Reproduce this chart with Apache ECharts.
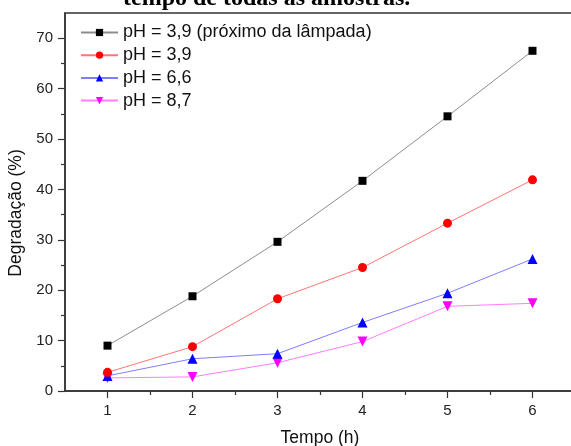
<!DOCTYPE html>
<html><head><meta charset="utf-8">
<script src="https://cdn.jsdelivr.net/npm/echarts@6/dist/echarts.min.js"></script>
<style>html,body{margin:0;padding:0;background:#fff}#c{width:571px;height:446px}</style>
</head><body><div id="c"></div>
<script>
const times = [1, 2, 3, 4, 5, 6];
const seriesNames = ['pH = 3,9 (próximo da lâmpada)', 'pH = 3,9', 'pH = 6,6', 'pH = 8,7'];
const phNearLamp = [9.0, 18.8, 29.6, 41.7, 54.5, 67.5];
const ph39 = [3.7, 8.8, 18.3, 24.5, 33.3, 41.9];
const ph66 = [3.0, 6.4, 7.4, 13.6, 19.4, 26.2];
const ph87 = [2.6, 2.8, 5.6, 9.8, 16.8, 17.4];
const xTicks = [1, 2, 3, 4, 5, 6];
const xMinorTicks = [1.5, 2.5, 3.5, 4.5, 5.5];
const yTicks = [0, 10, 20, 30, 40, 50, 60, 70];
const yMinorTicks = [5, 15, 25, 35, 45, 55, 65];
const captionText = 'tempo de todas as amostras.';

const chart = echarts.init(document.getElementById('c'));
const pair = arr => arr.map((v, i) => [times[i], v]);
const styles = [
  {c: '#000000', l: '#8c8c8c', s: 'rect', size: 8, rot: 0},
  {c: '#ff0000', l: '#ff7575', s: 'circle', size: 9, rot: 0},
  {c: '#0000ff', l: '#7d7dff', s: 'triangle', size: 10, rot: 0},
  {c: '#ff00ff', l: '#ff7dff', s: 'triangle', size: 10, rot: 180}
];
const dataSets = [phNearLamp, ph39, ph66, ph87];
const font = '"Liberation Sans", Arial, sans-serif';
const axisCol = '#333';
const gridBox = {left: 65, top: 13, width: 510, height: 378};
const baseX = {min: 0.5, max: 6.5, splitLine: {show: false}};
const baseY = {min: 0, max: 75, splitLine: {show: false}};
chart.setOption({
  animation: false,
  textStyle: {fontFamily: font},
  graphic: [{
    type: 'text', left: 123, top: -13,
    style: {text: captionText, font: 'bold 24px "Liberation Serif", serif', fill: '#000'}
  }],
  legend: {
    orient: 'vertical', left: 80, top: 23.5, itemGap: 4.7, padding: 0,
    itemWidth: 37, itemHeight: 9,
    textStyle: {fontSize: 18, lineHeight: 17, color: '#111', fontFamily: font},
    data: seriesNames
  },
  grid: Object.assign({show: true, borderColor: axisCol, borderWidth: 1.5, outerBoundsMode: 'none', containLabel: false}, gridBox),
  xAxis: [
    Object.assign({
      type: 'value',
      name: 'Tempo (h)', nameLocation: 'middle', nameGap: 38,
      nameTextStyle: {fontSize: 17.5, color: '#111'},
      axisLine: {show: true, onZero: false, lineStyle: {color: axisCol, width: 1.5}},
      axisTick: {show: true, inside: false, length: 7, customValues: xTicks, lineStyle: {color: axisCol, width: 1.2}},
      axisLabel: {fontSize: 15, color: '#222', margin: 12, customValues: xTicks}
    }, baseX),
    Object.assign({
      type: 'value', position: 'bottom',
      axisLine: {show: false, onZero: false},
      axisTick: {show: true, inside: false, length: 4, customValues: xMinorTicks, lineStyle: {color: axisCol, width: 1.2}},
      axisLabel: {show: false}
    }, baseX)
  ],
  yAxis: [
    Object.assign({
      type: 'value',
      name: 'Degradação (%)', nameLocation: 'middle', nameGap: 38,
      nameTextStyle: {fontSize: 17.5, color: '#111', padding: [0, 0, 0, -22]},
      axisLine: {show: true, onZero: false, lineStyle: {color: axisCol, width: 1.5}},
      axisTick: {show: true, inside: false, length: 7, customValues: yTicks, lineStyle: {color: axisCol, width: 1.2}},
      axisLabel: {fontSize: 15, color: '#222', margin: 12, customValues: yTicks}
    }, baseY),
    Object.assign({
      type: 'value', position: 'left',
      axisLine: {show: false, onZero: false},
      axisTick: {show: true, inside: false, length: 4, customValues: yMinorTicks, lineStyle: {color: axisCol, width: 1.2}},
      axisLabel: {show: false}
    }, baseY)
  ],
  series: dataSets.map((d, i) => ({
    name: seriesNames[i], type: 'line', data: pair(d),
    xAxisIndex: 0, yAxisIndex: 0,
    symbol: styles[i].s, symbolSize: styles[i].size, symbolRotate: styles[i].rot,
    showAllSymbol: true,
    itemStyle: {color: styles[i].c, borderWidth: 0},
    lineStyle: {color: styles[i].l, width: 1},
    z: 10 - i
  }))
});
</script></body></html>
